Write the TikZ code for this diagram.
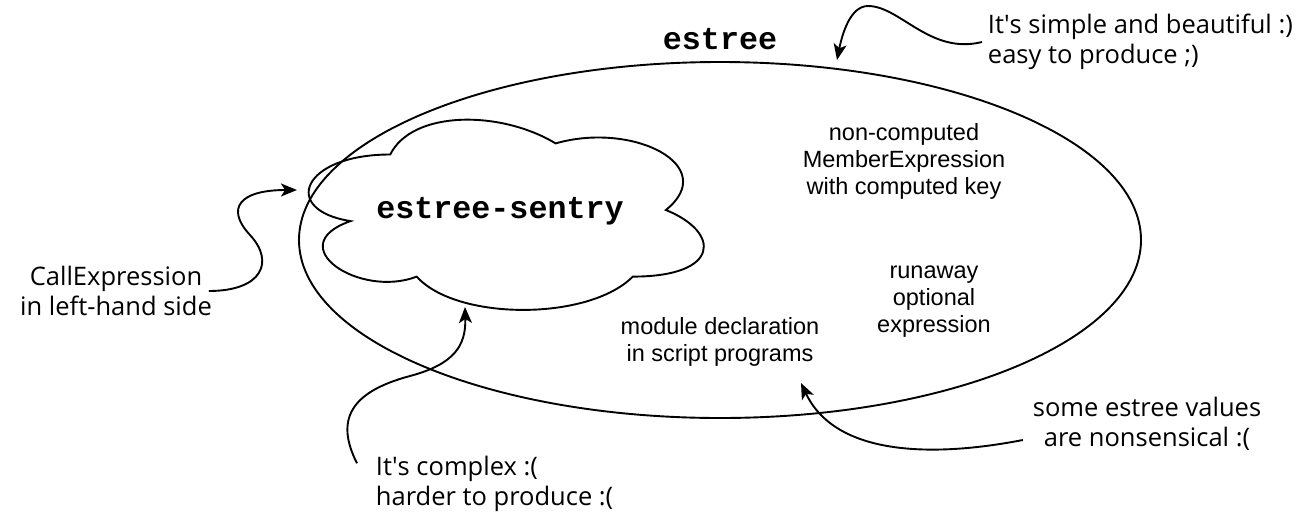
\documentclass[tikz,border=0pt]{standalone}
\usepackage{fontspec}
\setmainfont{Liberation Sans}
\newfontfamily\codefont{Liberation Mono}
\newfontfamily\notefont{Open Sans}
\usepackage{tikz}
\usetikzlibrary{arrows.meta,shapes.geometric}
\tikzset{
	note/.style={font=\notefont\fontsize{25.5}{30}\selectfont, inner sep=0pt},
	case/.style={font=\fontsize{23.5}{27}\selectfont, align=center, inner sep=0pt},
	code/.style={font=\codefont\bfseries\fontsize{31.7}{36}\selectfont, inner sep=0pt},
	curvy/.style={-{Stealth[length=16pt,width=13pt,inset=4pt]}, line width=1.9pt},
}

\begin{document}
\begin{tikzpicture}[x=1pt,y=-1pt,line width=1.9pt]
		\useasboundingbox (0,0) rectangle (1316,520);
		% estree set with the sentry cloud inside
		\node[draw,ellipse,minimum width=842pt,minimum height=356pt] (estree) at (720,240) {};
		\node[code] (estreeLbl) at (720,39) {estree};
		\begin{scope}[shift={(280,99)},x=441pt,y=-222pt]
			\draw (0.25,0.25) .. controls (0.05,0.25) and (0,0.5) .. (0.16,0.55)
				.. controls (0,0.66) and (0.18,0.9) .. (0.31,0.8)
				.. controls (0.4,1) and (0.7,1) .. (0.8,0.8)
				.. controls (1,0.8) and (1,0.6) .. (0.875,0.5)
				.. controls (1,0.3) and (0.8,0.1) .. (0.625,0.2)
				.. controls (0.5,0.05) and (0.3,0.05) .. (0.25,0.25) -- cycle;
		\end{scope}
		\node[code] (sentry) at (500,211) {estree-sentry};
		% cases inside the set
		\node[case] (noncomp) at (904,161) {non-computed\\MemberExpression\\with computed key};
		\node[case] (runaway) at (934,302) {runaway\\optional\\expression};
		\node[case] (module) at (720,342) {module declaration\\in script programs};
		% side notes
		\node[note,anchor=west,align=left] (simple) at (987,42) {It\textquotesingle s simple and beautiful :)\\easy to produce ;)};
		\node[note,align=center] (call) at (116,291) {CallExpression\\in left-hand side};
		\node[note,anchor=west,align=left] (complex) at (375,484) {It\textquotesingle s complex :(\\harder to produce :(};
		\node[note,align=center] (nonsense) at (1147,424) {some estree values\\are nonsensical :(};
		\coordinate (tipTop) at (837,60);
		\coordinate (tipLeft) at (297,190);
		\coordinate (tipCloud) at (465,307);
		\coordinate (tipModule) at (801,383);
		% curved arrows
		\draw[curvy] ([xshift=-5pt]simple.west) .. controls (930,55) and (900,6) .. (868,6) .. controls (850,6) and (842,35) .. (tipTop);
		\draw[curvy] ([xshift=-4pt]call.east) .. controls (262,291) and (275,262) .. (250,235) .. controls (225,208) and (240,190) .. (tipLeft);
		\draw[curvy] ([xshift=-18pt,yshift=-8pt]complex.north west) .. controls (335,420) and (350,392) .. (410,376) .. controls (455,364) and (466,345) .. (tipCloud);
		\draw[curvy] ([xshift=-9pt,yshift=-16pt]nonsense.west) .. controls (930,458) and (835,455) .. (tipModule);
\end{tikzpicture}
\end{document}
